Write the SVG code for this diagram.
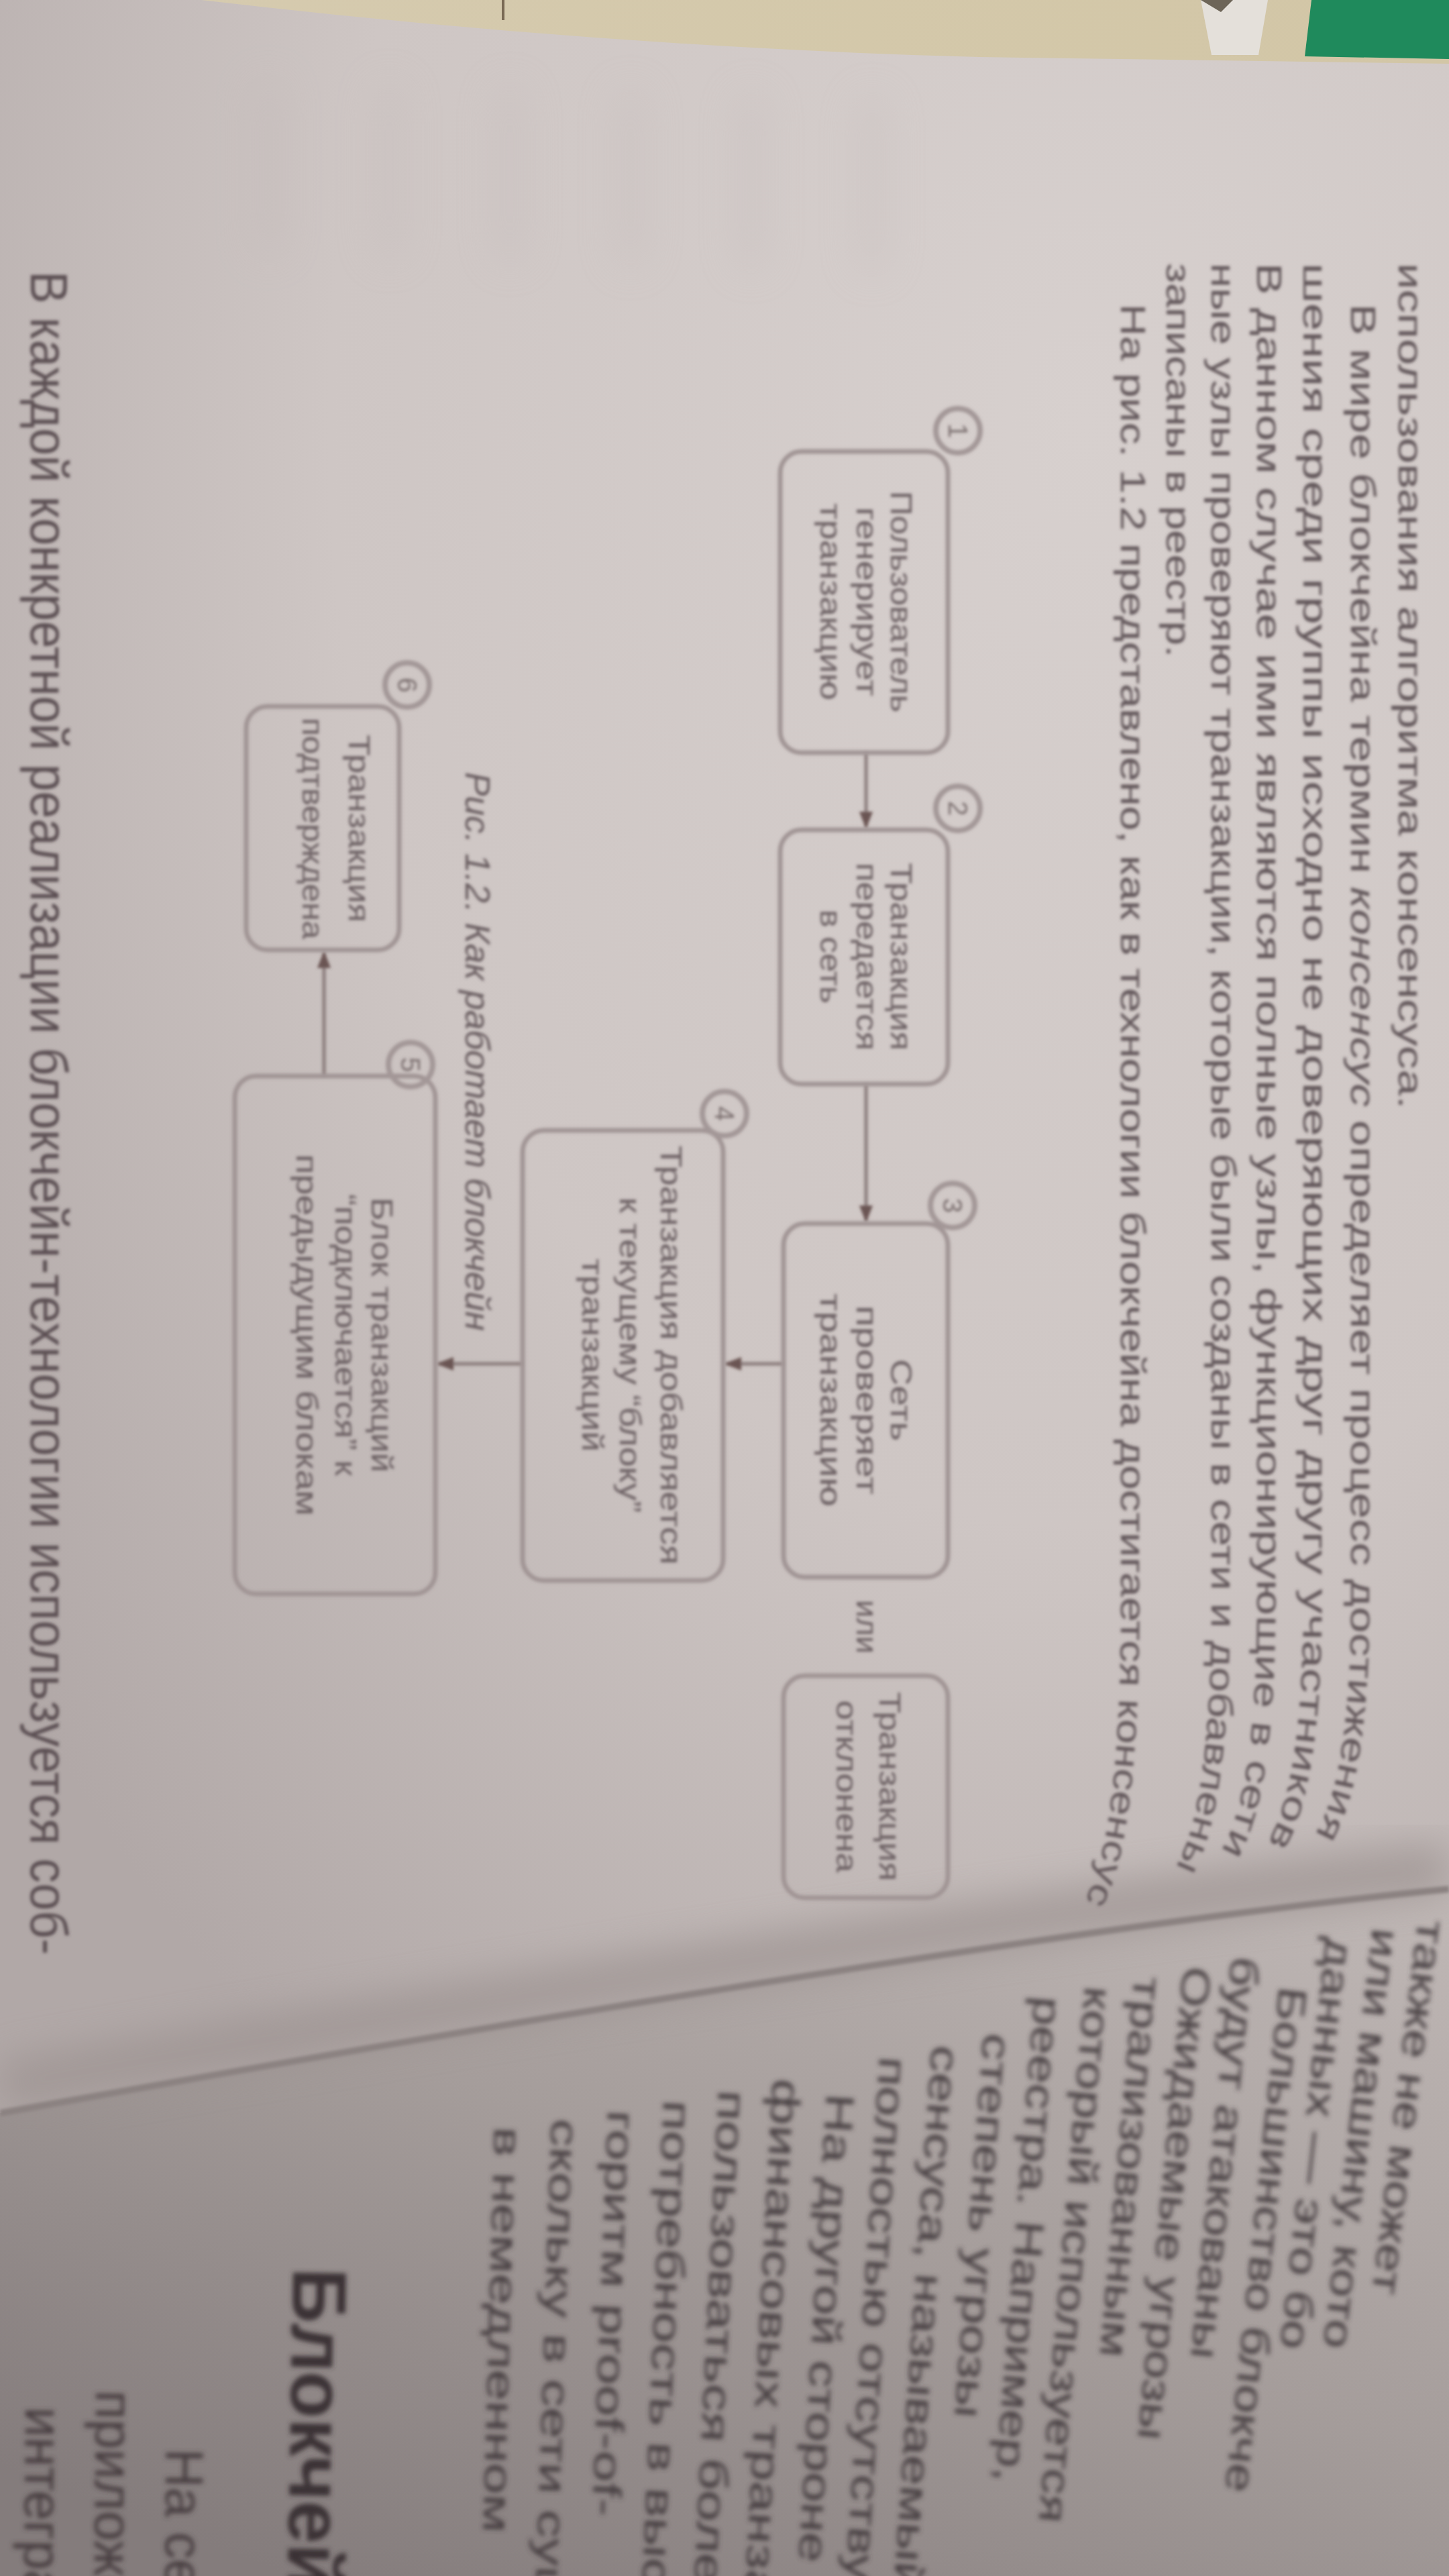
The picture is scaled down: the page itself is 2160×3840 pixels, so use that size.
<svg xmlns="http://www.w3.org/2000/svg" width="2160" height="3840" viewBox="0 0 2160 3840">
  <defs>
    <radialGradient id="leftPage" cx="0.75" cy="0.2" r="0.95">
      <stop offset="0" stop-color="#d7d0ce"/>
      <stop offset="0.55" stop-color="#cec6c4"/>
      <stop offset="1" stop-color="#b1a8a7"/>
    </radialGradient>
    <linearGradient id="rightPage" x1="1" y1="0" x2="0.2" y2="1">
      <stop offset="0" stop-color="#c0b8b6"/>
      <stop offset="0.5" stop-color="#a59d9b"/>
      <stop offset="1" stop-color="#847c7c"/>
    </linearGradient>
    <linearGradient id="desk" x1="0" y1="0" x2="1" y2="0">
      <stop offset="0" stop-color="#d6cbb0"/>
      <stop offset="1" stop-color="#d2c6a6"/>
    </linearGradient>
    <filter id="soft" x="-5%" y="-5%" width="110%" height="110%"><feGaussianBlur stdDeviation="2.2"/></filter>
    <filter id="softer" x="-5%" y="-5%" width="110%" height="110%"><feGaussianBlur stdDeviation="3.5"/></filter>
    <filter id="haze" x="-20%" y="-20%" width="140%" height="140%"><feGaussianBlur stdDeviation="30"/></filter>
    <marker id="arrow" markerUnits="userSpaceOnUse" viewBox="0 0 26 20" refX="24" refY="10" markerWidth="26" markerHeight="20" orient="auto">
      <path d="M0,0 L26,10 L0,20 z" fill="#6a5452"/>
    </marker>
    <!-- baselines of the long body lines; they bend near the gutter -->
    <path id="b1" d="M2085,392 V1700"/>
    <path id="b2" d="M2014,453 V2380 Q2014,2663 1954,2743"/>
    <path id="b3" d="M1943,392 V2380 Q1943,2675 1883,2755"/>
    <path id="b4" d="M1874,392 V2380 Q1874,2687 1814,2767"/>
    <path id="b5" d="M1806,392 V2380 Q1806,2712 1746,2792"/>
    <path id="b6" d="M1739,392 V1020"/>
    <path id="b7" d="M1671,453 V2380 Q1671,2761 1611,2841"/>
  </defs>
  <style>
    .pg { font-family: "Liberation Sans", "DejaVu Sans", sans-serif; font-size: 52px; fill: #62575a; }
    .big { font-family: "Liberation Sans", "DejaVu Sans", sans-serif; font-size: 78px; fill: #5b5053; }
    .dg { font-family: "Liberation Sans", "DejaVu Sans", sans-serif; font-size: 44px; fill: #6a5f62; text-anchor: middle; }
    .cap { font-family: "Liberation Sans", "DejaVu Sans", sans-serif; font-size: 52px; font-style: italic; fill: #675c5f; }
    .num { font-family: "Liberation Sans", "DejaVu Sans", sans-serif; font-size: 40px; fill: #7b6f70; text-anchor: middle; dominant-baseline: central; }
    .rp { font-family: "Liberation Sans", "DejaVu Sans", sans-serif; font-size: 60px; fill: #433a3d; }
    .rph { font-family: "Liberation Sans", "DejaVu Sans", sans-serif; font-size: 115px; font-weight: bold; fill: #3a3134; }
    .rpl { font-family: "Liberation Sans", "DejaVu Sans", sans-serif; font-size: 80px; fill: #443b3e; }
    .box { fill: none; stroke: #a09494; stroke-width: 7; }
    .ring { fill: none; stroke: #a39797; stroke-width: 8; }
    .wire { fill: none; stroke: #8a7c7b; stroke-width: 5; }
  </style>

  <!-- desk behind the book -->
  <rect x="0" y="0" width="2160" height="300" fill="url(#desk)"/>
  <path d="M1790,0 L1890,0 L1876,82 L1806,82 z" fill="#e4e0da"/>
  <path d="M1790,0 L1838,0 L1820,18 z" fill="#6d6558"/>
  <path d="M1955,0 L2160,0 L2160,88 L1945,84 z" fill="#1f8a5c"/>
  <line x1="750" y1="0" x2="750" y2="30" stroke="#7a6a55" stroke-width="4"/>

  <!-- left page -->
  <path d="M0,0 L300,0 Q900,70 1460,85 L2160,95 L2160,2816 Q1500,2880 0,3150 z" fill="url(#leftPage)"/>
  <!-- right page -->
  <path d="M0,3150 Q1500,2880 2160,2816 L2160,3840 L0,3840 z" fill="url(#rightPage)"/>
  <!-- gutter shadow -->
  <path d="M0,3110 Q1500,2845 2160,2785" fill="none" stroke="#9c9391" stroke-width="70" filter="url(#haze)" opacity="0.8"/>
  <path d="M0,3150 Q1500,2880 2160,2816" fill="none" stroke="#8b8281" stroke-width="10" filter="url(#soft)"/>

  <!-- faint show-through from the reverse side -->
  <g fill="#bdb4b4" opacity="0.25" filter="url(#haze)">
    <rect x="380" y="120" width="40" height="260"/>
    <rect x="560" y="125" width="40" height="260"/>
    <rect x="740" y="130" width="40" height="260"/>
    <rect x="920" y="135" width="40" height="260"/>
    <rect x="1100" y="140" width="40" height="260"/>
    <rect x="1280" y="145" width="40" height="260"/>
  </g>

  <!-- left page body text -->
  <g id="body-text" filter="url(#soft)">
    <text class="pg"><textPath href="#b1" textLength="1261" lengthAdjust="spacingAndGlyphs">использования алгоритма консенсуса.</textPath></text>
    <text class="pg"><textPath href="#b2" textLength="2290" lengthAdjust="spacingAndGlyphs">В мире блокчейна термин <tspan font-style="italic">консенсус</tspan> определяет процесс достижения</textPath></text>
    <text class="pg"><textPath href="#b3" textLength="2363" lengthAdjust="spacingAndGlyphs">шения среди группы исходно не доверяющих друг другу участников</textPath></text>
    <text class="pg"><textPath href="#b4" textLength="2375" lengthAdjust="spacingAndGlyphs">В данном случае ими являются полные узлы, функционирующие в сети</textPath></text>
    <text class="pg"><textPath href="#b5" textLength="2399" lengthAdjust="spacingAndGlyphs">ные узлы проверяют транзакции, которые были созданы в сети и добавлены</textPath></text>
    <text class="pg"><textPath href="#b6" textLength="588" lengthAdjust="spacingAndGlyphs">записаны в реестр.</textPath></text>
    <text class="pg"><textPath href="#b7" textLength="2387" lengthAdjust="spacingAndGlyphs">На рис. 1.2 представлено, как в технологии блокчейна достигается консенсус</textPath></text>
    <text class="big" transform="translate(46,404) rotate(90)" textLength="2510" lengthAdjust="spacingAndGlyphs">В каждой конкретной реализации блокчейн-технологии используется соб-</text>
  </g>

  <!-- connectors -->
  <g id="connectors" filter="url(#soft)">
    <line class="wire" x1="1291" y1="1122" x2="1291" y2="1234" marker-end="url(#arrow)"/>
    <line class="wire" x1="1291" y1="1616" x2="1291" y2="1821" marker-end="url(#arrow)"/>
    <line class="wire" x1="1168" y1="2033" x2="1081" y2="2033" marker-end="url(#arrow)"/>
    <line class="wire" x1="779" y1="2033" x2="652" y2="2033" marker-end="url(#arrow)"/>
    <line class="wire" x1="483" y1="1604" x2="483" y2="1419" marker-end="url(#arrow)"/>
  </g>

  <g id="diagram" filter="url(#soft)">
    <g id="node1">
      <rect class="box" x="1163" y="673" width="250" height="449" rx="32"/>
      <circle class="ring" cx="1428" cy="642" r="33"/>
      <text class="num" transform="translate(1428,642) rotate(90)">1</text>
      <text class="dg" transform="translate(1328,897) rotate(90)" textLength="330" lengthAdjust="spacingAndGlyphs">Пользователь</text>
      <text class="dg" transform="translate(1277,897) rotate(90)" textLength="282" lengthAdjust="spacingAndGlyphs">генерирует</text>
      <text class="dg" transform="translate(1223,897) rotate(90)" textLength="294" lengthAdjust="spacingAndGlyphs">транзакцию</text>
    </g>
    <g id="node2">
      <rect class="box" x="1163" y="1237" width="250" height="379" rx="32"/>
      <circle class="ring" cx="1428" cy="1205" r="33"/>
      <text class="num" transform="translate(1428,1205) rotate(90)">2</text>
      <text class="dg" transform="translate(1328,1426) rotate(90)" textLength="280" lengthAdjust="spacingAndGlyphs">Транзакция</text>
      <text class="dg" transform="translate(1277,1426) rotate(90)" textLength="280" lengthAdjust="spacingAndGlyphs">передается</text>
      <text class="dg" transform="translate(1223,1426) rotate(90)" textLength="140" lengthAdjust="spacingAndGlyphs">в сеть</text>
    </g>
    <g id="node3">
      <rect class="box" x="1168" y="1824" width="245" height="527" rx="32"/>
      <circle class="ring" cx="1420" cy="1797" r="33"/>
      <text class="num" transform="translate(1420,1797) rotate(90)">3</text>
      <text class="dg" transform="translate(1328,2087) rotate(90)" textLength="122" lengthAdjust="spacingAndGlyphs">Сеть</text>
      <text class="dg" transform="translate(1277,2087) rotate(90)" textLength="282" lengthAdjust="spacingAndGlyphs">проверяет</text>
      <text class="dg" transform="translate(1223,2087) rotate(90)" textLength="318" lengthAdjust="spacingAndGlyphs">транзакцию</text>
    </g>
    <text id="or-label" class="dg" transform="translate(1277,2425) rotate(90)" textLength="80" lengthAdjust="spacingAndGlyphs">или</text>
    <g id="node-reject">
      <rect class="box" x="1168" y="2498" width="245" height="331" rx="32"/>
      <text class="dg" transform="translate(1311,2663) rotate(90)" textLength="282" lengthAdjust="spacingAndGlyphs">Транзакция</text>
      <text class="dg" transform="translate(1247,2663) rotate(90)" textLength="257" lengthAdjust="spacingAndGlyphs">отклонена</text>
    </g>
    <g id="node4">
      <rect class="box" x="779" y="1685" width="299" height="671" rx="32"/>
      <circle class="ring" cx="1080" cy="1660" r="33"/>
      <text class="num" transform="translate(1080,1660) rotate(90)">4</text>
      <text class="dg" transform="translate(985,2020) rotate(90)" textLength="625" lengthAdjust="spacingAndGlyphs">Транзакция добавляется</text>
      <text class="dg" transform="translate(924,2020) rotate(90)" textLength="470" lengthAdjust="spacingAndGlyphs">к текущему “блоку”</text>
      <text class="dg" transform="translate(868,2020) rotate(90)" textLength="288" lengthAdjust="spacingAndGlyphs">транзакций</text>
    </g>
    <g id="node5">
      <rect class="box" x="350" y="1604" width="299" height="772" rx="32"/>
      <circle class="ring" cx="612" cy="1587" r="33"/>
      <text class="num" transform="translate(612,1587) rotate(90)">5</text>
      <text class="dg" transform="translate(554,1990) rotate(90)" textLength="410" lengthAdjust="spacingAndGlyphs">Блок транзакций</text>
      <text class="dg" transform="translate(500,1990) rotate(90)" textLength="420" lengthAdjust="spacingAndGlyphs">“подключается” к</text>
      <text class="dg" transform="translate(442,1990) rotate(90)" textLength="539" lengthAdjust="spacingAndGlyphs">предыдущим блокам</text>
    </g>
    <g id="node6">
      <rect class="box" x="367" y="1053" width="228" height="363" rx="32"/>
      <circle class="ring" cx="607" cy="1021" r="33"/>
      <text class="num" transform="translate(607,1021) rotate(90)">6</text>
      <text class="dg" transform="translate(520,1235) rotate(90)" textLength="280" lengthAdjust="spacingAndGlyphs">Транзакция</text>
      <text class="dg" transform="translate(451,1235) rotate(90)" textLength="330" lengthAdjust="spacingAndGlyphs">подтверждена</text>
    </g>
    <text id="caption" class="cap" transform="translate(694,1151) rotate(90)" textLength="833" lengthAdjust="spacingAndGlyphs">Рис. 1.2. Как работает блокчейн</text>
  </g>

  <!-- right page text -->
  <g id="right-page-text" filter="url(#softer)">
    <text class="rp" transform="translate(2114,2860) rotate(97) scale(1.3,1)">также не может</text>
    <text class="rp" transform="translate(2046,2873) rotate(96.7) scale(1.3,1)">или машину, кото</text>
    <text class="rp" transform="translate(1977,2886) rotate(96.4) scale(1.3,1)">данных — это бо</text>
    <text class="rp" transform="translate(1907,2960) rotate(96.1) scale(1.3,1)">Большинство блокче</text>
    <text class="rp" transform="translate(1836,2915) rotate(95.8) scale(1.3,1)">будут атакованы</text>
    <text class="rp" transform="translate(1764,2930) rotate(95.5) scale(1.3,1)">Ожидаемые угрозы</text>
    <text class="rp" transform="translate(1691,2945) rotate(95.2) scale(1.3,1)">трализованным</text>
    <text class="rp" transform="translate(1617,2960) rotate(94.9) scale(1.3,1)">который используется</text>
    <text class="rp" transform="translate(1542,2975) rotate(94.6) scale(1.3,1)">реестра. Например,</text>
    <text class="rp" transform="translate(1466,3030) rotate(94.3) scale(1.35,1)">степень угрозы</text>
    <text class="rp" transform="translate(1389,3048) rotate(94) scale(1.35,1)">сенсуса, называемый</text>
    <text class="rp" transform="translate(1311,3065) rotate(93.7) scale(1.35,1)">полностью отсутствует</text>
    <text class="rp" transform="translate(1232,3120) rotate(93.4) scale(1.35,1)">На другой стороне</text>
    <text class="rp" transform="translate(1152,3098) rotate(93.1) scale(1.4,1)">финансовых транзакций</text>
    <text class="rp" transform="translate(1071,3115) rotate(92.8) scale(1.4,1)">пользоваться более</text>
    <text class="rp" transform="translate(989,3130) rotate(92.5) scale(1.4,1)">потребность в высоко</text>
    <text class="rp" transform="translate(906,3145) rotate(92.2) scale(1.4,1)">горитм proof-of-</text>
    <text class="rp" transform="translate(822,3158) rotate(91.9) scale(1.4,1)">скольку в сети существ</text>
    <text class="rp" transform="translate(737,3170) rotate(91.6) scale(1.4,1)">в немедленном</text>
    <text class="rph" transform="translate(437,3380) rotate(91)">Блокчейн</text>
    <text class="rpl" transform="translate(248,3650) rotate(90.5)">На сегодня</text>
    <text class="rpl" transform="translate(143,3563) rotate(90.5)">приложений</text>
    <text class="rpl" transform="translate(38,3588) rotate(90.5)">интеграции</text>
  </g>
</svg>
